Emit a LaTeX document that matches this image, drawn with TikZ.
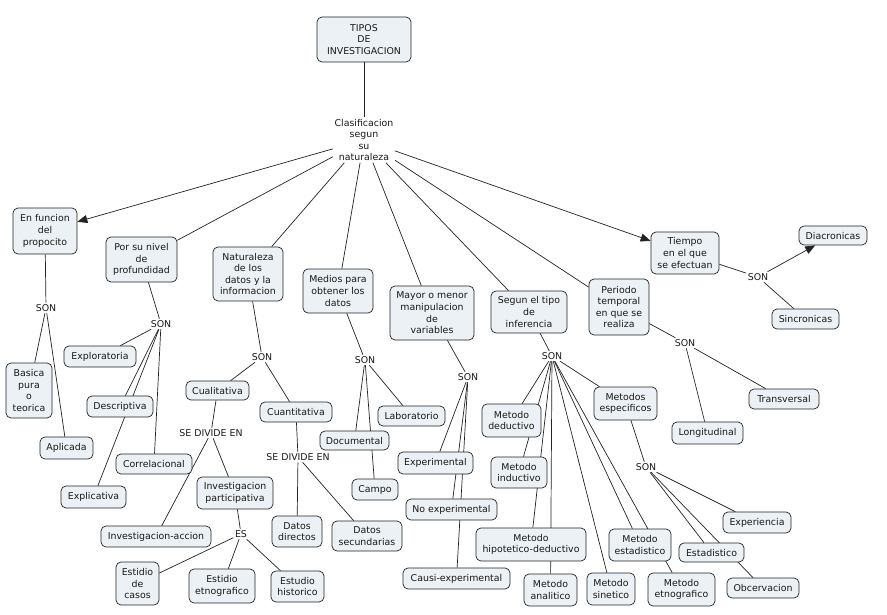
\documentclass[tikz,border=0pt]{standalone}
\usepackage{fontspec}
\setmainfont{DejaVu Sans}
\usetikzlibrary{arrows.meta,backgrounds}
\definecolor{boxfill}{RGB}{235,241,244}
\definecolor{linec}{RGB}{35,35,35}
\definecolor{txtc}{RGB}{25,25,25}
\newcommand\mybox[6]{%
  \pgfmathsetmacro\cx{(#2+#4)/2}\pgfmathsetmacro\cy{(#3+#5)/2}%
  \pgfmathsetmacro\ww{#4-#2}\pgfmathsetmacro\hh{#5-#3}%
  \node[box,minimum width=\ww pt,minimum height=\hh pt] (#1) at (\cx,\cy) {#6};}
\begin{document}
\begin{tikzpicture}[x=1pt,y=-1pt,
  txt/.style={font=\fontsize{9.4}{11.6}\selectfont,text=txtc},
  box/.style={txt,draw=linec,fill=boxfill,rounded corners=5pt,line width=0.7pt,inner sep=0pt,align=center},
  lbl/.style={txt,inner sep=1.5pt,align=center},
  conn/.style={draw=linec,line width=0.7pt},
  arr/.style={conn,-{Triangle[length=10pt,width=8pt]}}]
\useasboundingbox (0,0) rectangle (887,615);
% concepts
\mybox{tipos}{317}{17}{411}{62}{TIPOS\\DE\\INVESTIGACION}
\node[lbl] (clas) at (364,140) {Clasificacion\\segun\\su\\naturaleza};
\mybox{funcion}{13}{208}{77}{254}{En funcion\\del\\propocito}
\mybox{nivel}{106}{237}{177}{282}{Por su nivel\\de\\profundidad}
\mybox{natur}{213}{247}{283}{301}{Naturaleza\\de los\\datos y la\\informacion}
\mybox{medios}{303}{269}{373}{313}{Medios para\\obtener los\\datos}
\mybox{mayor}{390}{286}{474}{340}{Mayor o menor\\manipulacion\\de\\variables}
\mybox{segun}{491}{291}{567}{333}{Segun el tipo\\de\\inferencia}
\mybox{periodo}{589}{279}{649}{335}{Periodo\\temporal\\en que se\\realiza}
\mybox{tiempo}{651}{232}{719}{274}{Tiempo\\en el que\\se efectuan}
\mybox{diacr}{799}{226}{867}{245}{Diacronicas}
\mybox{sincr}{772}{309}{839}{329}{Sincronicas}
\mybox{basica}{6}{363}{52}{418}{Basica\\pura\\o\\teorica}
\mybox{aplic}{40}{437}{93}{459}{Aplicada}
\mybox{explor}{64}{346}{136}{367}{Exploratoria}
\mybox{descr}{87}{396}{153}{417}{Descriptiva}
\mybox{correl}{116}{454}{192}{474}{Correlacional}
\mybox{explic}{61}{486}{126}{508}{Explicativa}
\mybox{cuali}{186}{381}{249}{400}{Cualitativa}
\mybox{cuanti}{260}{402}{332}{422}{Cuantitativa}
\mybox{invacc}{101}{526}{211}{547}{Investigacion-accion}
\mybox{invpart}{197}{477}{273}{509}{Investigacion\\participativa}
\mybox{casos}{116}{562}{159}{605}{Estidio\\de\\casos}
\mybox{etno}{189}{569}{255}{603}{Estidio\\etnografico}
\mybox{hist}{271}{571}{324}{602}{Estudio\\historico}
\mybox{direct}{272}{516}{322}{547}{Datos\\directos}
\mybox{secund}{332}{521}{402}{551}{Datos\\secundarias}
\mybox{lab}{378}{406}{445}{426}{Laboratorio}
\mybox{doc}{320}{431}{389}{450}{Documental}
\mybox{campo}{352}{479}{398}{500}{Campo}
\mybox{exper}{398}{452}{473}{474}{Experimental}
\mybox{noexp}{406}{499}{497}{520}{No experimental}
\mybox{causi}{403}{568}{510}{589}{Causi-experimental}
\mybox{deduc}{482}{404}{541}{437}{Metodo\\deductivo}
\mybox{induc}{491}{457}{547}{488}{Metodo\\inductivo}
\mybox{hipot}{476}{528}{586}{561}{Metodo\\hipotetico-deductivo}
\mybox{analit}{524}{574}{577}{606}{Metodo\\analitico}
\mybox{sinet}{587}{573}{635}{605}{Metodo\\sinetico}
\mybox{estad}{609}{529}{671}{561}{Metodo\\estadistico}
\mybox{etnog}{648}{573}{715}{606}{Metodo\\etnografico}
\mybox{especif}{594}{387}{657}{420}{Metodos\\especificos}
\mybox{experi}{723}{512}{791}{533}{Experiencia}
\mybox{estadis}{679}{543}{744}{562}{Estadistico}
\mybox{obcerv}{727}{578}{799}{598}{Obcervacion}
\mybox{transv}{749}{389}{819}{409}{Transversal}
\mybox{longit}{672}{422}{743}{444}{Longitudinal}
% linking phrases
\node[lbl] (son1) at (46,308) {SON};
\node[lbl] (son2) at (161,324) {SON};
\node[lbl] (son3) at (262,357) {SON};
\node[lbl] (div1) at (211,433) {SE DIVIDE EN};
\node[lbl] (es) at (241,534) {ES};
\node[lbl] (div2) at (298,457) {SE DIVIDE EN};
\node[lbl] (son4) at (365,360) {SON};
\node[lbl] (son5) at (468,377) {SON};
\node[lbl] (son6) at (552,356) {SON};
\node[lbl] (son7) at (646,467) {SON};
\node[lbl] (son8) at (685,343) {SON};
\node[lbl] (son9) at (758,277) {SON};
% connectors
\begin{scope}[on background layer]
\fill[white] (0,0) rectangle (887,615);
\draw[conn] (tipos) -- (clas);
\draw[arr] (clas) -- (funcion);
\draw[conn] (clas) -- (nivel);
\draw[conn] (clas) -- (natur);
\draw[conn] (clas) -- (medios);
\draw[conn] (clas) -- (mayor);
\draw[conn] (clas) -- (segun);
\draw[conn] (clas) -- (periodo);
\draw[arr] (clas) -- (tiempo);
\draw[conn] (funcion) -- (son1);
\draw[conn] (son1) -- (basica);
\draw[conn] (son1) -- (aplic);
\draw[conn] (nivel) -- (son2);
\draw[conn] (son2) -- (explor);
\draw[conn] (son2) -- (descr);
\draw[conn] (son2) -- (explic);
\draw[conn] (son2) -- (correl);
\draw[conn] (natur) -- (son3);
\draw[conn] (son3) -- (cuali);
\draw[conn] (son3) -- (cuanti);
\draw[conn] (cuali) -- (div1);
\draw[conn] (div1) -- (invacc);
\draw[conn] (div1) -- (invpart);
\draw[conn] (invpart) -- (es);
\draw[conn] (es) -- (casos);
\draw[conn] (es) -- (etno);
\draw[conn] (es) -- (hist);
\draw[conn] (cuanti) -- (div2);
\draw[conn] (div2) -- (direct);
\draw[conn] (div2) -- (secund);
\draw[conn] (medios) -- (son4);
\draw[conn] (son4) -- (lab);
\draw[conn] (son4) -- (doc);
\draw[conn] (son4) -- (campo);
\draw[conn] (mayor) -- (son5);
\draw[conn] (son5) -- (exper);
\draw[conn] (son5) -- (noexp);
\draw[conn] (son5) -- (causi);
\draw[conn] (segun) -- (son6);
\draw[conn] (son6) -- (deduc);
\draw[conn] (son6) -- (induc);
\draw[conn] (son6) -- (hipot);
\draw[conn] (son6) -- (analit);
\draw[conn] (son6) -- (sinet);
\draw[conn] (son6) -- (estad);
\draw[conn] (son6) -- (etnog);
\draw[conn] (son6) -- (especif);
\draw[conn] (especif) -- (son7);
\draw[conn] (son7) -- (experi);
\draw[conn] (son7) -- (estadis);
\draw[conn] (son7) -- (obcerv);
\draw[conn] (periodo) -- (son8);
\draw[conn] (son8) -- (transv);
\draw[conn] (son8) -- (longit);
\draw[conn] (tiempo) -- (son9);
\draw[arr] (son9) -- (diacr);
\draw[conn] (son9) -- (sincr);
\end{scope}
\end{tikzpicture}
\end{document}
